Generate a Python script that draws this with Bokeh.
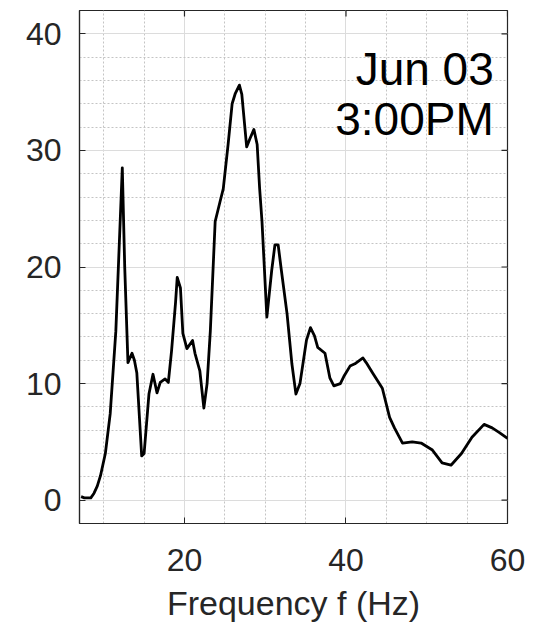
import math
from bokeh.plotting import figure
from bokeh.models import ColumnDataSource, FixedTicker, Label, Range1d
from bokeh.embed import file_html
from bokeh.resources import INLINE

# Spectrum amplitude vs. frequency
freq_hz = [7.2, 7.6, 8.0, 8.4, 8.8, 9.2, 9.6, 10.2, 10.8, 11.5, 11.9, 12.3,
           12.6, 13.0, 13.5, 13.8, 14.1, 14.7, 15.0, 15.6, 16.1, 16.6, 17.0,
           17.6, 18.0, 18.4, 18.9, 19.1, 19.5, 19.8, 20.3, 21.0, 21.3, 21.9,
           22.4, 22.8, 23.2, 23.8, 24.4, 24.8, 25.4, 25.9, 26.3, 26.8, 27.1,
           27.7, 28.1, 28.6, 29.0, 29.3, 29.6, 30.2, 30.8, 31.2, 31.6, 32.0,
           32.7, 33.3, 33.8, 34.3, 35.1, 35.6, 36.1, 36.5, 37.4, 38.0, 38.5,
           39.3, 39.8, 40.5, 41.1, 42.1, 42.5, 43.3, 44.5, 45.4, 46.0, 47.0,
           48.2, 49.3, 50.7, 51.9, 53.0, 54.3, 55.6, 57.1, 58.1, 59.0, 60.0]
amplitude = [0.3, 0.2, 0.2, 0.2, 0.6, 1.2, 2.1, 4.0, 7.4, 14.5, 21.5, 28.5,
             20.0, 11.8, 12.6, 12.0, 10.9, 3.8, 4.0, 9.1, 10.8, 9.2, 10.1,
             10.4, 10.1, 12.8, 17.0, 19.1, 18.2, 14.3, 13.0, 13.7, 12.6, 11.1,
             7.9, 10.0, 14.5, 23.9, 25.6, 26.7, 30.5, 34.0, 34.9, 35.6, 34.8,
             30.3, 31.0, 31.8, 30.5, 26.8, 23.9, 15.7, 19.7, 21.9, 21.9, 19.7,
             16.0, 11.7, 9.1, 10.0, 13.7, 14.8, 14.1, 13.1, 12.6, 10.5, 9.8,
             10.0, 10.7, 11.5, 11.7, 12.2, 11.8, 10.9, 9.6, 7.1, 6.2, 4.9,
             5.0, 4.9, 4.3, 3.2, 3.0, 4.0, 5.4, 6.5, 6.2, 5.8, 5.3]

x_ticks = [20, 40, 60]
x_minor = [10, 15, 25, 30, 35, 45, 50, 55]
y_ticks = [0, 10, 20, 30, 40]
y_minor = [2, 4, 6, 8, 12, 14, 16, 18, 22, 24, 26, 28, 32, 34, 36, 38]

date_text = "Jun 03"
time_text = "3:00PM"
x_label = "Frequency f (Hz)"

FONT = "Liberation Sans"
AX = "#262626"
X0, X1, Y0, Y1 = 7, 60, -2, 42

p = figure(width=536, height=631, output_backend="svg", toolbar_location=None,
           x_range=Range1d(X0, X1), y_range=Range1d(Y0, Y1),
           min_border_left=79, min_border_right=29, min_border_top=10,
           min_border_bottom=108, x_axis_label=x_label)
p.background_fill_color = "white"
p.border_fill_color = "white"
p.outline_line_color = AX
p.outline_line_width = 1.2

xt = FixedTicker(ticks=x_ticks, minor_ticks=x_minor)
yt = FixedTicker(ticks=y_ticks, minor_ticks=y_minor)

for ax in (p.xaxis[0], p.yaxis[0]):
    ax.major_tick_in = 6
    ax.major_tick_out = 0
    ax.minor_tick_line_color = None
    ax.axis_line_color = AX
    ax.axis_line_width = 1.2
    ax.major_tick_line_color = AX
    ax.major_label_text_font = FONT
    ax.major_label_text_font_size = "32px"
    ax.major_label_text_color = AX
p.xaxis[0].ticker = xt
p.yaxis[0].ticker = yt
p.xaxis[0].major_label_standoff = 21
p.yaxis[0].major_label_standoff = 14
p.xaxis[0].axis_label_text_font = FONT
p.xaxis[0].axis_label_text_font_size = "34px"
p.xaxis[0].axis_label_text_font_style = "normal"
p.xaxis[0].axis_label_text_color = AX
p.xaxis[0].axis_label_standoff = 10

for g, t in ((p.xgrid[0], xt), (p.ygrid[0], yt)):
    g.ticker = t
    g.grid_line_color = "#dcdcdc"
    g.grid_line_width = 1
    g.minor_grid_line_color = "#c4c4c4"
    g.minor_grid_line_dash = "2 2"
    g.minor_grid_line_width = 1

# inward ticks on the top and right edges of the box
p.ray(x=x_ticks, y=[Y1] * len(x_ticks), length=6, length_units="screen",
      angle=-math.pi / 2, line_color=AX, line_width=1.2)
p.ray(x=[X1] * len(y_ticks), y=y_ticks, length=6, length_units="screen",
      angle=math.pi, line_color=AX, line_width=1.2)

src = ColumnDataSource(dict(f=freq_hz, a=amplitude))
p.line("f", "a", source=src, line_color="black", line_width=2.8,
       line_join="round")

p.add_layout(Label(x=58.3, y=37.0, text=date_text, text_align="right",
                   text_baseline="alphabetic", text_font=FONT,
                   text_font_size="46px", text_color="black"))
p.add_layout(Label(x=58.3, y=32.7, text=time_text, text_align="right",
                   text_baseline="alphabetic", text_font=FONT,
                   text_font_size="46px", text_color="black"))

open("out.html", "w").write(file_html(p, INLINE))
